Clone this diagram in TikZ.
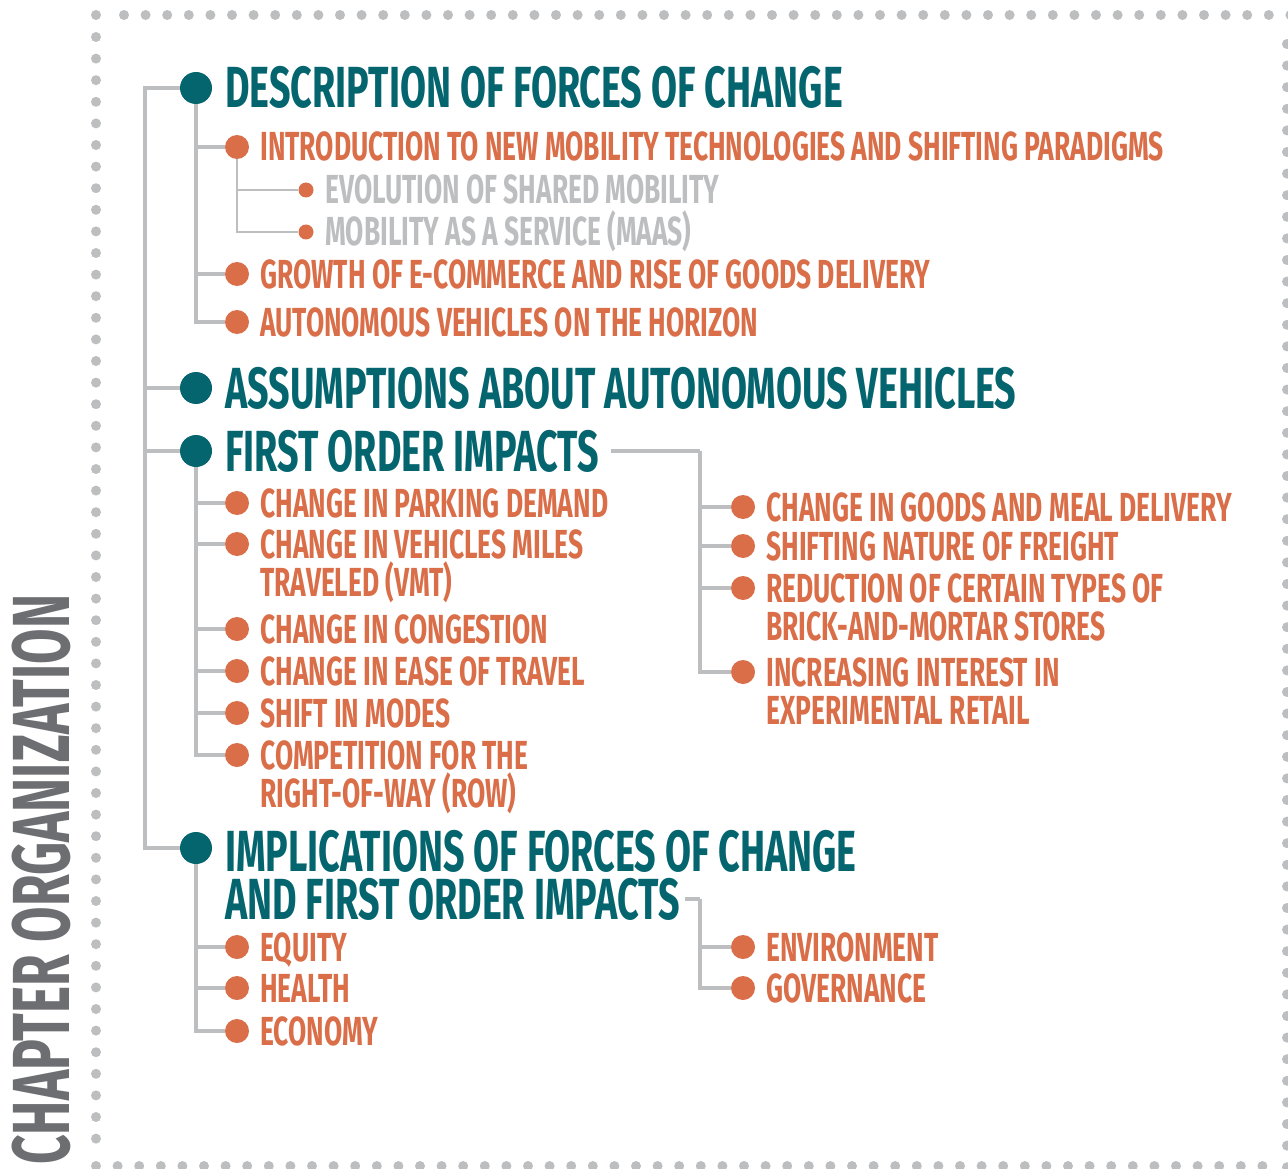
\documentclass[tikz,border=0pt]{standalone}
\usepackage{fontspec}
\newfontfamily\capfont[FakeStretch=0.65]{Fira Sans}
\newfontfamily\capitolofont[FakeStretch=0.635]{Fira Sans}
\usetikzlibrary{positioning}
\definecolor{ottanio}{HTML}{05656F}
\definecolor{arancio}{HTML}{D96E48}
\definecolor{grigio}{HTML}{BCBEC0}
\definecolor{grigioscuro}{HTML}{6D6E71}
\tikzset{
    titolo/.style={anchor=west, inner sep=0pt, text=ottanio, font=\capfont\bfseries\fontsize{58}{58}\selectfont, text height=40pt, text depth=0pt},
    voce/.style={anchor=west, inner sep=0pt, text=arancio, font=\capfont\bfseries\fontsize{40.6}{40.6}\selectfont, text height=28pt, text depth=0pt},
    sottovoce/.style={voce, text=grigio},
    pallaT/.style={circle, fill=ottanio, inner sep=0pt, minimum size=32pt},
    pallaA/.style={circle, fill=arancio, inner sep=0pt, minimum size=24pt},
    pallina/.style={circle, fill=arancio, inner sep=0pt, minimum size=15pt},
    ramo/.style={draw=grigio, line width=3.3pt},
    rametto/.style={draw=grigio, line width=2pt}
}
\begin{document}
\begin{tikzpicture}[x=1pt, y=-1pt]
        \useasboundingbox (0,0) rectangle (1288,1169);
        % Cornice a puntini
        \fill[grigio] (96,15) circle (5pt);
        \foreach \k in {0,...,54} \fill[grigio] ({124+21.6*\k},15) circle (5pt);
        \foreach \k in {0,...,51} \fill[grigio] (96,{37+21.6*\k}) circle (5pt);
        \foreach \k in {0,...,54} \fill[grigio] ({96+21.6*\k},1166) circle (5pt);
        \foreach \k in {0,...,52} \fill[grigio] (1287,{44+21.6*\k}) circle (5pt);
        \node[rotate=90, anchor=base west, inner sep=0pt, text=grigioscuro, font=\capitolofont\bfseries\fontsize{81}{81}\selectfont] (capitolo) at (69,1165) {CHAPTER ORGANIZATION};

        % Livello 1
        \node[pallaT] (d1) at (196,88) {};
        \node[titolo, right=13pt of d1] (t1) {DESCRIPTION OF FORCES OF CHANGE};
        \node[pallaT] (d2) at (196,388) {};
        \node[titolo, right=13pt of d2] (t2) {ASSUMPTIONS ABOUT AUTONOMOUS VEHICLES};
        \node[pallaT] (d3) at (196,451) {};
        \node[titolo, right=13pt of d3] (t3) {FIRST ORDER IMPACTS};
        \node[pallaT] (d4) at (196,848) {};
        \node[titolo] (t4) at (225,851) {IMPLICATIONS OF FORCES OF CHANGE};
        \node[titolo] (t4b) at (225,899) {AND FIRST ORDER IMPACTS};

        % Forze di cambiamento
        \node[pallaA] (o1) at (237,147) {};
        \node[voce, right=11pt of o1] (v1) {INTRODUCTION TO NEW MOBILITY TECHNOLOGIES AND SHIFTING PARADIGMS};
        \node[pallina] (g1) at (306,190) {};
        \node[sottovoce, right=11.5pt of g1] (s1) {EVOLUTION OF SHARED MOBILITY};
        \node[pallina] (g2) at (306,232) {};
        \node[sottovoce, right=11.5pt of g2] (s2) {MOBILITY AS A SERVICE (MAAS)};
        \node[pallaA] (o2) at (237,274) {};
        \node[voce, right=11pt of o2] (v2) {GROWTH OF E-COMMERCE AND RISE OF GOODS DELIVERY};
        \node[pallaA] (o3) at (237,322) {};
        \node[voce, right=11pt of o3] (v3) {AUTONOMOUS VEHICLES ON THE HORIZON};

        % Impatti di primo ordine
        \node[pallaA] (c1) at (237,503) {};
        \node[voce, right=11pt of c1] (p1) {CHANGE IN PARKING DEMAND};
        \node[pallaA] (c2) at (237,544) {};
        \node[voce, right=11pt of c2] (p2) {CHANGE IN VEHICLES MILES};
        \node[voce] (p2b) at ([yshift=-38pt]p2.west) {TRAVELED (VMT)};
        \node[pallaA] (c3) at (237,629) {};
        \node[voce, right=11pt of c3] (p3) {CHANGE IN CONGESTION};
        \node[pallaA] (c4) at (237,671) {};
        \node[voce, right=11pt of c4] (p4) {CHANGE IN EASE OF TRAVEL};
        \node[pallaA] (c5) at (237,713) {};
        \node[voce, right=11pt of c5] (p5) {SHIFT IN MODES};
        \node[pallaA] (c6) at (237,755) {};
        \node[voce, right=11pt of c6] (p6) {COMPETITION FOR THE};
        \node[voce] (p6b) at ([yshift=-38pt]p6.west) {RIGHT-OF-WAY (ROW)};

        \node[pallaA] (r1) at (743,507) {};
        \node[voce, right=11pt of r1] (q1) {CHANGE IN GOODS AND MEAL DELIVERY};
        \node[pallaA] (r2) at (743,546) {};
        \node[voce, right=11pt of r2] (q2) {SHIFTING NATURE OF FREIGHT};
        \node[pallaA] (r3) at (743,588) {};
        \node[voce, right=11pt of r3] (q3) {REDUCTION OF CERTAIN TYPES OF};
        \node[voce] (q3b) at ([yshift=-38pt]q3.west) {BRICK-AND-MORTAR STORES};
        \node[pallaA] (r4) at (743,672) {};
        \node[voce, right=11pt of r4] (q4) {INCREASING INTEREST IN};
        \node[voce] (q4b) at ([yshift=-38pt]q4.west) {EXPERIMENTAL RETAIL};

        % Implicazioni
        \node[pallaA] (i1) at (237,947) {};
        \node[voce, right=11pt of i1] (m1) {EQUITY};
        \node[pallaA] (i2) at (237,988) {};
        \node[voce, right=11pt of i2] (m2) {HEALTH};
        \node[pallaA] (i3) at (237,1031) {};
        \node[voce, right=11pt of i3] (m3) {ECONOMY};
        \node[pallaA] (e1) at (743,947) {};
        \node[voce, right=11pt of e1] (n1) {ENVIRONMENT};
        \node[pallaA] (e2) at (743,988) {};
        \node[voce, right=11pt of e2] (n2) {GOVERNANCE};

        % Rami
        \coordinate (tronco) at (145,88);
        \coordinate (gomito) at (700,451);
        \coordinate (gomito2) at (700,899);
        \draw[ramo] (d1) -- (tronco) |- (d4);
        \draw[ramo] (tronco) |- (d2);
        \draw[ramo] (tronco) |- (d3);
        \foreach \n in {o1,o2,o3} \draw[ramo] (d1) |- (\n);
        \foreach \n in {g1,g2} \draw[rametto] (o1) |- (\n);
        \foreach \n in {c1,c2,c3,c4,c5,c6} \draw[ramo] (d3) |- (\n);
        \draw[ramo] ([xshift=12pt]t3.east) -- (gomito);
        \foreach \n in {r1,r2,r3,r4} \draw[ramo] (gomito) |- (\n);
        \foreach \n in {i1,i2,i3} \draw[ramo] (d4) |- (\n);
        \draw[ramo] ([xshift=5pt]t4b.east) -- (gomito2);
        \foreach \n in {e1,e2} \draw[ramo] (gomito2) |- (\n);
\end{tikzpicture}
\end{document}
